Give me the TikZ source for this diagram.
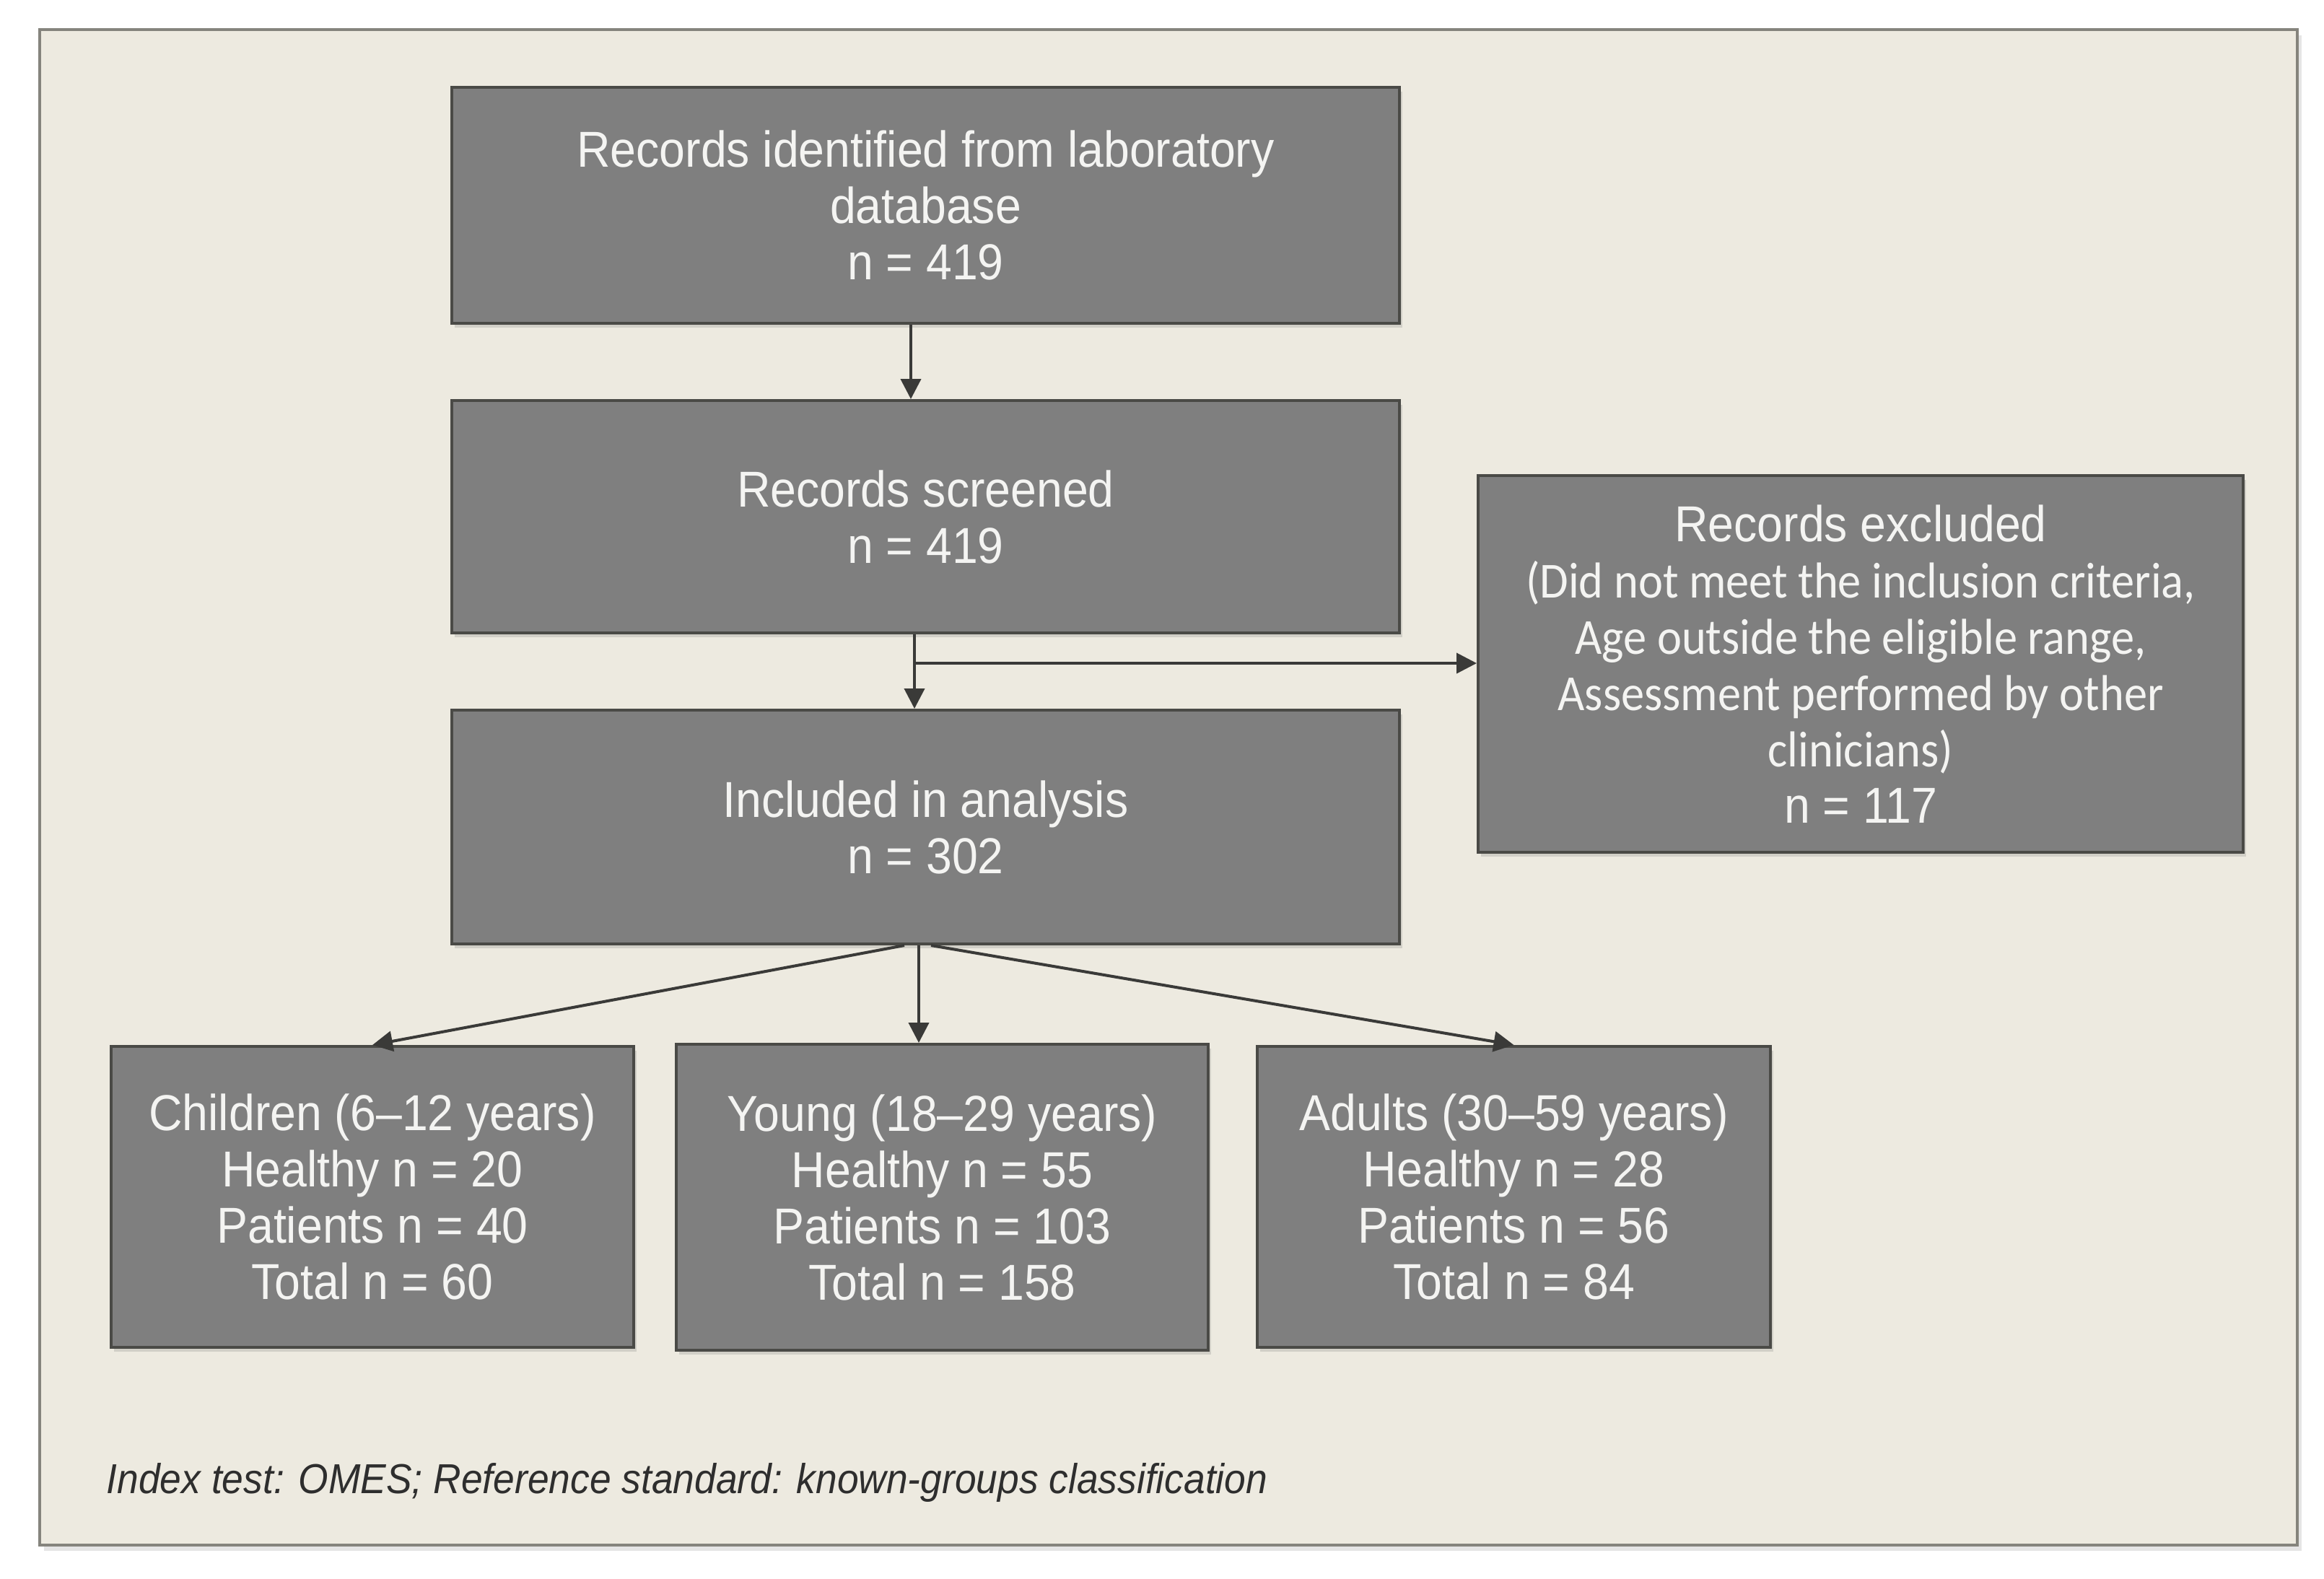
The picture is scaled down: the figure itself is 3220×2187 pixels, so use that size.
\documentclass[tikz,border=0pt]{standalone}
\usepackage{fontspec}
\setmainfont{Liberation Sans}[FakeStretch=0.92]
\newfontfamily\calib{Carlito}[FakeStretch=0.92]
\usetikzlibrary{arrows.meta,shadows}
\definecolor{panelbg}{HTML}{EDEAE0}
\definecolor{panelline}{HTML}{85847D}
\definecolor{boxfill}{HTML}{7F7F7F}
\definecolor{boxline}{HTML}{4A4A46}
\definecolor{arrowc}{HTML}{3A3A38}
\definecolor{txt}{HTML}{F4F4F2}
\definecolor{foot}{HTML}{2E2E2E}
\begin{document}
\begin{tikzpicture}[x=0.25pt,y=-0.25pt,
  fbox/.style={rectangle, fill=boxfill, draw=boxline, line width=1pt, text=txt,
    align=center, inner sep=0pt, font=\fontsize{17.5pt}{19.5pt}\selectfont,
    drop shadow={shadow xshift=1pt, shadow yshift=-1.5pt, opacity=0.25}},
  arr/.style={draw=arrowc, line width=1pt, -{Triangle[length=7pt,width=7pt]}}]
\fill[white] (0,0) rectangle (3220,2187);
\useasboundingbox (0,0) rectangle (3220,2187);
\draw[fill=panelbg, draw=panelline, line width=1.2pt,
  drop shadow={shadow xshift=1.5pt, shadow yshift=-2pt, opacity=0.2}] (55,41) rectangle (3183,2141);

\node[fbox, minimum width=328.25pt, minimum height=81.75pt] (b1) at (1282.5,284.5)
  {Records identified from laboratory\\database\\n = 419};
\node[fbox, minimum width=328.25pt, minimum height=80.5pt] (b2) at (1282.5,716)
  {Records screened\\n = 419};
\node[fbox, minimum width=328.25pt, minimum height=81pt] (b3) at (1282.5,1146)
  {Included in analysis\\n = 302};
\node[fbox, minimum width=265pt, minimum height=130.5pt] (ex) at (2578,920)
  {Records excluded\\ \calib (Did not meet the inclusion criteria,\\ \calib Age outside the eligible range,\\ \calib Assessment performed by other\\ \calib clinicians)\\ \rmfamily n = 117};
\node[fbox, minimum width=181pt, minimum height=104.25pt] (ch) at (516,1658.5)
  {Children (6–12 years)\\Healthy n = 20\\Patients n = 40\\Total n = 60};
\node[fbox, minimum width=184.25pt, minimum height=106pt] (yg) at (1305.5,1659)
  {Young (18–29 years)\\Healthy n = 55\\Patients n = 103\\Total n = 158};
\node[fbox, minimum width=177.75pt, minimum height=104.25pt] (ad) at (2097.5,1658.5)
  {Adults (30–59 years)\\Healthy n = 28\\Patients n = 56\\Total n = 84};

\node[anchor=west, inner sep=0pt, text=foot, font=\itshape\fontsize{14.5pt}{16pt}\selectfont] (fn) at (147,2054)
  {Index test: OMES; Reference standard: known-groups classification};

\coordinate (xa) at (1262,0);
\coordinate (xb) at (1267,0);
\coordinate (xl) at (1253,0);
\coordinate (xc) at (1273,0);
\coordinate (xr) at (1290,0);
\coordinate (br) at (1267,919);
\draw[arr] (b1.south -| xa) -- (b2.north -| xa);
\draw[arr] (b2.south -| xb) -- (b3.north -| xb);
\draw[arr] (br) -- (br -| ex.west);
\draw[arr] (b3.south -| xl) -- (ch.north);
\draw[arr] (b3.south -| xc) -- (yg.north -| xc);
\draw[arr] (b3.south -| xr) -- (ad.north);
\end{tikzpicture}
\end{document}
